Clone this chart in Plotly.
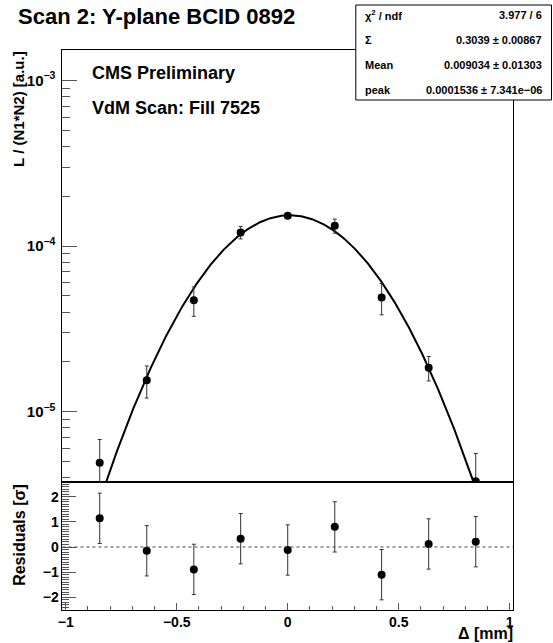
import numpy as np
import plotly.graph_objects as go

# ---- data ----
delta_mm = [-0.847, -0.635, -0.423, -0.212, 0.0, 0.212, 0.423, 0.635, 0.847]
lumi = [4.92e-6, 1.55e-5, 4.72e-5, 1.21e-4, 1.525e-4, 1.327e-4, 4.90e-5, 1.845e-5, 3.80e-6]
lumi_err = [1.88e-6, 3.4e-6, 9.5e-6, 1.05e-5, 4.5e-6, 1.3e-5, 1.05e-5, 3.1e-6, 1.8e-6]
residuals = [1.14, -0.15, -0.89, 0.33, -0.12, 0.80, -1.10, 0.12, 0.21]
residual_err = [1, 1, 1, 1, 1, 1, 1, 1, 1]

# fit parameters (from stats box)
fit_sigma = 0.3039
fit_mean = 0.009034
fit_peak = 0.0001536
stats_labels = ["χ<sup>2</sup> / ndf", "Σ", "Mean", "peak"]
stats_values = ["3.977 / 6", "0.3039 ± 0.00867", "0.009034 ± 0.01303", "0.0001536 ± 7.341e−06"]

W, H = 553, 643
FONT = "Liberation Sans"

def px(x):
    return x / W

def py(y):
    return 1 - y / H

fit_x = np.linspace(-0.95, 0.95, 600)
fit_y = fit_peak * np.exp(-((fit_x - fit_mean) ** 2) / (2 * fit_sigma ** 2))

fig = go.Figure()

fig.add_trace(go.Scatter(
    x=fit_x, y=fit_y, mode="lines", line=dict(color="black", width=2),
    xaxis="x2", yaxis="y", showlegend=False, hoverinfo="skip"))

fig.add_trace(go.Scatter(
    x=delta_mm, y=lumi, mode="markers",
    marker=dict(color="black", size=8),
    error_y=dict(type="data", array=lumi_err, color="#333", thickness=1, width=2),
    xaxis="x2", yaxis="y", showlegend=False))

fig.add_trace(go.Scatter(
    x=delta_mm, y=residuals, mode="markers",
    marker=dict(color="black", size=8),
    error_y=dict(type="data", array=residual_err, color="#333", thickness=1, width=2),
    xaxis="x", yaxis="y2", showlegend=False))

xdom = [px(58), px(513)]
tickfont = dict(family=FONT, size=14, color="black", weight="bold")

fig.update_layout(
    width=W, height=H,
    margin=dict(l=0, r=0, t=0, b=0),
    paper_bgcolor="white", plot_bgcolor="white",
    font=dict(family=FONT, color="black"),
    xaxis=dict(
        domain=xdom, anchor="y2", range=[-1.0147, 1.0165],
        showline=True, mirror=True, linecolor="black", linewidth=1,
        showgrid=False, zeroline=False,
        ticks="inside", ticklen=7, tickcolor="#555", dtick=0.5, tick0=0,
        minor=dict(ticks="inside", ticklen=4, dtick=0.1, tickcolor="#555", showgrid=False),
        tickfont=tickfont,
    ),
    xaxis2=dict(
        domain=xdom, anchor="y", matches="x", range=[-1.0147, 1.0165],
        showline=True, mirror=True, linecolor="black", linewidth=1,
        showgrid=False, zeroline=False, showticklabels=False, ticks="",
    ),
    yaxis=dict(
        domain=[py(482), py(50)], anchor="x2", type="log", range=[-5.424, -2.816],
        showline=True, mirror=True, linecolor="black", linewidth=1,
        showgrid=False, zeroline=False,
        tickvals=[1e-5, 1e-4, 1e-3],
        ticktext=["10<sup>−5</sup>", "10<sup>−4</sup>", "10<sup>−3</sup>"],
        ticks="inside", ticklen=15, tickcolor="#555",
        minor=dict(ticks="inside", ticklen=8, dtick="D1", tickcolor="#555", showgrid=False),
        tickfont=dict(family=FONT, size=15, color="black", weight="bold"),
        ticklabelstandoff=3,
    ),
    yaxis2=dict(
        domain=[py(609.5), py(482)], anchor="x", range=[-2.485, 2.584],
        showline=True, mirror=True, linecolor="black", linewidth=1,
        showgrid=False, zeroline=False,
        dtick=1, tick0=0, ticks="inside", ticklen=14, tickcolor="#555",
        minor=dict(ticks="inside", ticklen=7, dtick=0.1, tickcolor="#555", showgrid=False),
        tickfont=tickfont,
    ),
)

# dashed zero line in residual panel
fig.add_shape(type="line", xref="x domain", yref="y2", x0=0, x1=1, y0=0, y1=0,
              line=dict(color="#444", width=1, dash="3px,3px"))

# stats box
fig.add_shape(type="rect", xref="paper", yref="paper",
              x0=px(354), x1=px(551.5), y0=py(100), y1=py(5),
              fillcolor="white", line=dict(color="black", width=1), layer="above")

annotations = []
row_y = [15, 40, 65, 89.5]
for lab, val, ry in zip(stats_labels, stats_values, row_y):
    annotations.append(dict(xref="paper", yref="paper", x=px(361), y=py(ry),
                            xanchor="left", yanchor="middle", showarrow=False, text=lab,
                            font=dict(family=FONT, size=11, color="black", weight="bold")))
    annotations.append(dict(xref="paper", yref="paper", x=px(544), y=py(ry),
                            xanchor="right", yanchor="middle", showarrow=False, text=val,
                            font=dict(family=FONT, size=11, color="black", weight="bold")))

annotations += [
    dict(xref="paper", yref="paper", x=px(11), y=py(16), xanchor="left", yanchor="middle",
         showarrow=False, text="Scan 2: Y-plane BCID 0892",
         font=dict(family=FONT, size=22, color="black", weight="bold")),
    dict(xref="paper", yref="paper", x=px(86), y=py(73), xanchor="left", yanchor="middle",
         showarrow=False, text="CMS Preliminary",
         font=dict(family=FONT, size=18, color="black", weight="bold")),
    dict(xref="paper", yref="paper", x=px(86), y=py(108), xanchor="left", yanchor="middle",
         showarrow=False, text="VdM Scan: Fill 7525",
         font=dict(family=FONT, size=18, color="black", weight="bold")),
    dict(xref="paper", yref="paper", x=px(13), y=py(49), xanchor="center", yanchor="top",
         showarrow=False, text="L / (N1*N2) [a.u.]", textangle=-90,
         font=dict(family=FONT, size=15, color="black", weight="bold")),
    dict(xref="paper", yref="paper", x=px(14), y=py(482), xanchor="center", yanchor="top",
         showarrow=False, text="Residuals [σ]", textangle=-90,
         font=dict(family=FONT, size=16, color="black", weight="bold")),
    dict(xref="paper", yref="paper", x=px(515), y=py(633), xanchor="right", yanchor="middle",
         showarrow=False, text="Δ [mm]",
         font=dict(family=FONT, size=16, color="black", weight="bold")),
]
fig.update_layout(annotations=annotations)

fig.write_html("out.html", config={"displayModeBar": False},
               post_script="document.body.style.margin='0';")
